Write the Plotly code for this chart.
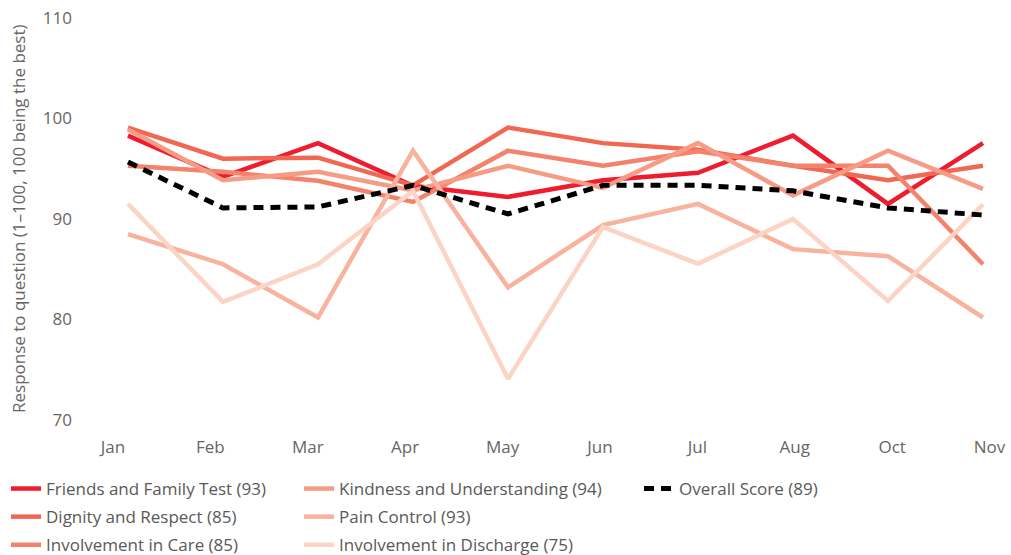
import plotly.graph_objects as go

months = ["Jan", "Feb", "Mar", "Apr", "May", "Jun", "Jul", "Aug", "Oct", "Nov"]

friends_family = [98.3, 94.2, 97.55, 93.3, 92.2, 93.85, 94.6, 98.3, 91.5, 97.55]
dignity_respect = [99.1, 96.0, 96.1, 93.35, 99.1, 97.55, 96.9, 95.3, 93.85, 95.3]
involvement_care = [95.3, 94.7, 93.8, 91.7, 96.8, 95.3, 96.75, 95.3, 95.3, 85.5]
kindness = [98.9, 93.85, 94.7, 92.85, 95.3, 93.1, 97.55, 92.35, 96.8, 93.0]
pain_control = [88.5, 85.5, 80.2, 96.8, 83.2, 89.4, 91.5, 87.0, 86.3, 80.2]
involvement_discharge = [91.5, 81.75, 85.5, 92.8, 74.1, 89.2, 85.55, 90.0, 81.85, 91.45]
overall = [95.67, 91.1, 91.2, 93.35, 90.5, 93.35, 93.35, 92.8, 91.1, 90.4]

y_ticks = [70, 80, 90, 100, 110]
y_title = "Response to question (1\u2013100, 100 being the best)"

series = [
    ("Friends and Family Test (93)", friends_family, "#ED1C2E", "legend"),
    ("Dignity and Respect (85)", dignity_respect, "#F16852", "legend"),
    ("Involvement in Care (85)", involvement_care, "#F3836C", "legend"),
    ("Kindness and Understanding (94)", kindness, "#F69C86", "legend2"),
    ("Pain Control (93)", pain_control, "#F8B29E", "legend2"),
    ("Involvement in Discharge (75)", involvement_discharge, "#FCD4C6", "legend2"),
]

FONT = "Open Sans, Noto Sans, sans-serif"
TXT = "#666666"
fig = go.Figure()

# invisible trace carrying the month-label axis
fig.add_trace(go.Scatter(x=months, y=overall, xaxis="x2", yaxis="y",
                         mode="lines", line=dict(width=0, color="rgba(0,0,0,0)"),
                         showlegend=False, hoverinfo="skip"))

for i, (name, vals, color, lg) in enumerate(series):
    fig.add_trace(go.Scatter(x=months, y=vals, name=name, mode="lines",
                             line=dict(color=color, width=4.5),
                             legend=lg, legendgroup=f"g{i}"))

fig.add_trace(go.Scatter(x=months, y=overall, name="Overall Score (89)", mode="lines",
                         line=dict(color="#000000", width=5, dash="10px,7px"),
                         legend="legend3", legendgroup="g_over"))

legend_common = dict(
    orientation="v", xref="container", yref="container", yanchor="top", xanchor="left",
    font=dict(family=FONT, size=17, color="#595959"), bgcolor="rgba(0,0,0,0)",
    tracegroupgap=3, traceorder="grouped",
)
LEG_TOP = 1 - 471 / 555

fig.update_layout(
    width=1011, height=555,
    paper_bgcolor="white", plot_bgcolor="white",
    margin=dict(l=78, r=15, t=17.5, b=135, autoexpand=False),
    font=dict(family=FONT, color=TXT, size=17),
    xaxis=dict(type="category", range=[-0.526, 9.137], showticklabels=False,
               showgrid=False, zeroline=False, showline=False, ticks="", automargin=False),
    xaxis2=dict(type="category", overlaying="x", side="bottom", range=[-0.359, 9.066],
                showgrid=False, zeroline=False, showline=False, ticks="", automargin=False,
                tickfont=dict(family=FONT, size=17, color=TXT),
                ticklabelstandoff=15, ticklabeloverflow="allow"),
    yaxis=dict(range=[70, 110], tickvals=y_ticks, showgrid=False, zeroline=False,
               showline=False, ticks="", automargin=False, ticklabelstandoff=5,
               ticklabeloverflow="allow",
               tickfont=dict(family=FONT, size=17, color=TXT)),
    legend=dict(x=6 / 1011, y=LEG_TOP, **legend_common),
    legend2=dict(x=299 / 1011, y=LEG_TOP, **legend_common),
    legend3=dict(x=639 / 1011, y=LEG_TOP, **legend_common),
    showlegend=True,
    hovermode=False,
    annotations=[dict(text=y_title, xref="paper", yref="paper", x=(18 - 78) / 918, y=0.5,
                      xanchor="center", yanchor="middle", textangle=-90, showarrow=False,
                      font=dict(family=FONT, size=17, color=TXT))],
)

fig.write_html("out.html", config={"displayModeBar": False},
               post_script="document.body.style.margin='0';document.body.style.overflow='hidden';")
